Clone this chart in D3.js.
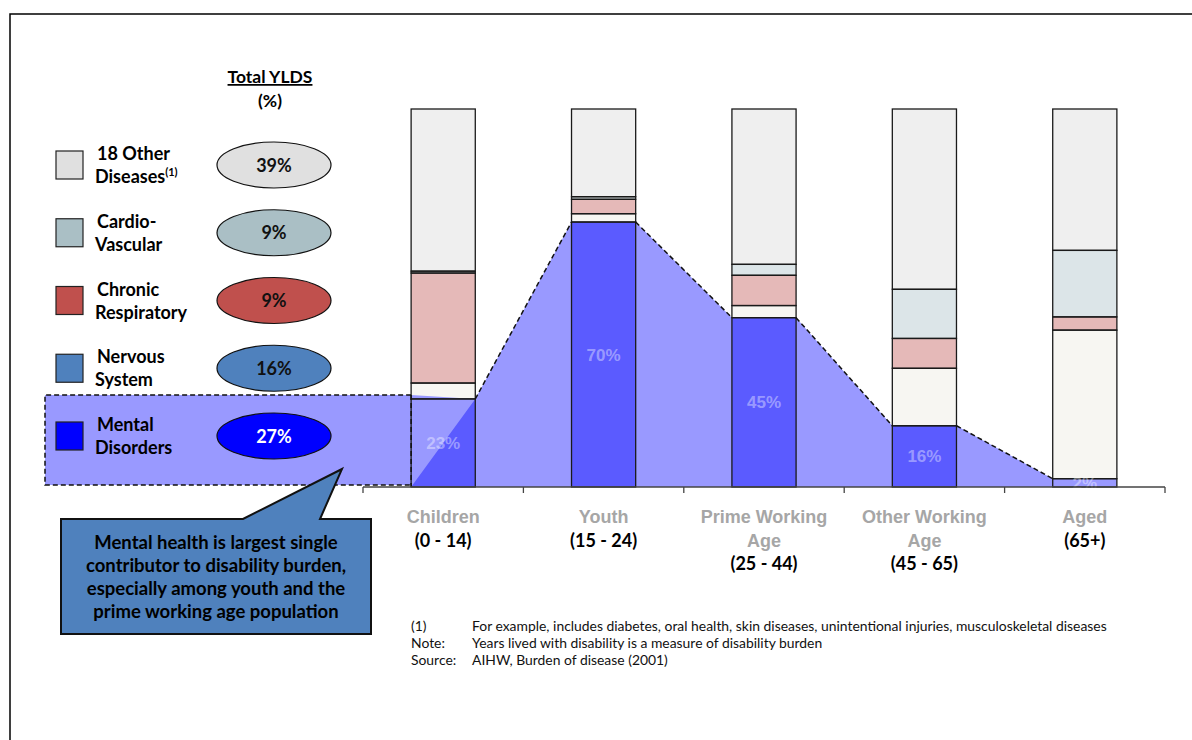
<!DOCTYPE html>
<html>
<head>
<meta charset="utf-8">
<script src="https://cdn.jsdelivr.net/npm/d3@7"></script>
<style>
  body { margin: 0; background: #fff; }
  svg text { font-family: Lato, "Open Sans", sans-serif; }
  .cat { font-family: "Liberation Sans", Arial, sans-serif; font-weight: bold; }
</style>
</head>
<body>
<svg width="1192" height="740"></svg>
<script>

// Data (percent of YLDs per age group, bottom to top)
var categories = ["Children", "Youth", "Prime Working Age", "Other Working Age", "Aged"];
var catLines = [["Children"], ["Youth"], ["Prime Working", "Age"], ["Other Working", "Age"], ["Aged"]];
var ageRanges = ["(0 - 14)", "(15 - 24)", "(25 - 44)", "(45 - 65)", "(65+)"];

var mental      = [23.3, 70.1, 44.8, 16.2, 2.2];
var nervous     = [4.2, 2.2, 3.2, 15.2, 39.3];
var respiratory = [29.1, 3.8, 8.0, 7.9, 3.5];
var cardio      = [0.5, 0.7, 2.9, 13.0, 17.6];
var other       = [42.9, 23.2, 41.1, 47.7, 37.4];
var mentalLabels = ["23%", "70%", "45%", "16%", "2%"];

// legend, top to bottom
var legendKeys   = ["other", "cardio", "respiratory", "nervous", "mental"];
var legendNames  = [["18 Other", "Diseases"], ["Cardio-", "Vascular"], ["Chronic", "Respiratory"], ["Nervous", "System"], ["Mental", "Disorders"]];
var legendTotals = ["39%", "9%", "9%", "16%", "27%"];

var calloutLines = ["Mental health is largest single", "contributor to disability burden,",
                    "especially among youth and the", "prime working age population"];
var footLabels = ["(1)", "Note:", "Source:"];
var footTexts = ["For example, includes diabetes, oral health, skin diseases, unintentional injuries, musculoskeletal diseases",
                 "Years lived with disability is a measure of disability burden",
                 "AIHW, Burden of disease (2001)"];

var keys = ["mental", "nervous", "respiratory", "cardio", "other"];
var barColor = {mental: "#5b5bff", nervous: "#f7f6f2", respiratory: "#e5b9b8", cardio: "#dce5e8", other: "#efefef"};
var legColor = {mental: "#0000ff", nervous: "#4f81bd", respiratory: "#c0504d", cardio: "#aabfc5", other: "#e0e0e0"};
var overlay = "#9999ff";

var svg = d3.select("svg");

// page frame
svg.append("rect").attr("x", 10).attr("y", 14).attr("width", 1200).attr("height", 740)
  .attr("fill", "none").attr("stroke", "#000").attr("stroke-width", 1.5);

var x = d3.scaleBand().domain(categories).range([363, 1165]).paddingInner(0.6).paddingOuter(0.3);
var y = d3.scaleLinear().domain([0, 100]).range([487, 109]);

var rows = categories.map(function (c, i) {
  return {cat: c, mental: mental[i], nervous: nervous[i], respiratory: respiratory[i], cardio: cardio[i], other: other[i]};
});
var series = d3.stack().keys(keys)(rows);

var bw = x.bandwidth();
function L(i) { return x(categories[i]); }
function R(i) { return x(categories[i]) + bw; }
function T(i) { return y(mental[i]); }

// highlight band behind the bars
var hlLeft = 45, hlTop = T(0) - 4, hlBottom = 485;
var back = [[R(0), T(0)]];
for (var i = 1; i < categories.length; i++) { back.push([L(i), T(i)]); back.push([R(i), T(i)]); }
back.push([R(categories.length - 1), y(0)]);
back.push([R(0), y(0)]);
svg.append("path").attr("d", "M" + back.join("L") + "Z").attr("fill", overlay);

// bar fills
var segs = svg.append("g");
series.forEach(function (s) {
  segs.selectAll(null).data(s).enter().append("rect")
    .attr("x", function (d) { return x(d.data.cat); })
    .attr("y", function (d) { return y(d[1]); })
    .attr("width", bw)
    .attr("height", function (d) { return y(d[0]) - y(d[1]); })
    .attr("fill", function (d, i) { return (s.key === "mental" && i === categories.length - 1) ? overlay : barColor[s.key]; });
});

// front highlight piece running into the first bar
var front = [[hlLeft, hlTop], [L(0), hlTop], [R(0), T(0)], [L(0), y(0)], [L(0), hlBottom], [hlLeft, hlBottom]];
svg.append("path").attr("d", "M" + front.join("L") + "Z").attr("fill", overlay);

// bar outlines
var outl = svg.append("g");
series.forEach(function (s) {
  outl.selectAll(null).data(s).enter().append("rect")
    .attr("x", function (d) { return x(d.data.cat); })
    .attr("y", function (d) { return y(d[1]); })
    .attr("width", bw)
    .attr("height", function (d) { return y(d[0]) - y(d[1]); })
    .attr("fill", "none").attr("stroke", "#1a1a1a").attr("stroke-width", 1.3);
});

// mental labels
svg.selectAll(".ml").data(mentalLabels).enter().append("text")
  .attr("x", function (d, i) { return L(i) + bw / 2; })
  .attr("y", function (d, i) { return (y(0) + T(i)) / 2 + 6; })
  .attr("text-anchor", "middle").attr("class", "cat")
  .attr("font-size", 17).attr("fill", "#fff").attr("fill-opacity", 0.4)
  .text(function (d) { return d; });

// dashed outlines
var dash = svg.append("g").attr("fill", "none").attr("stroke", "#111").attr("stroke-width", 1.5).attr("stroke-dasharray", "5,3");
dash.append("path").attr("d", "M" + L(0) + "," + hlTop + "H" + hlLeft + "V" + hlBottom + "H" + L(0));
dash.append("path").attr("d", "M" + L(0) + "," + hlTop + "V" + y(0));
for (var j = 0; j < categories.length - 1; j++) {
  dash.append("path").attr("d", "M" + R(j) + "," + T(j) + "L" + L(j + 1) + "," + T(j + 1));
}

// axis with ticks at the band edges
var ax = svg.append("g").attr("stroke", "#444").attr("stroke-width", 1.3);
ax.append("line").attr("x1", 363).attr("x2", 1165).attr("y1", y(0)).attr("y2", y(0));
ax.selectAll("line.tk").data(d3.range(categories.length + 1)).enter().append("line")
  .attr("x1", function (d) { return 363 + d * x.step(); })
  .attr("x2", function (d) { return 363 + d * x.step(); })
  .attr("y1", y(0)).attr("y2", y(0) + 6);

// category labels
categories.forEach(function (c, i) {
  var cx = L(i) + bw / 2;
  catLines[i].forEach(function (t, k) {
    svg.append("text").attr("class", "cat").attr("x", cx).attr("y", 523 + k * 24)
      .attr("text-anchor", "middle").attr("font-size", 18).attr("fill", "#a6a6a6").text(t);
  });
  svg.append("text").attr("x", cx).attr("y", 524 + catLines[i].length * 23)
    .attr("text-anchor", "middle").attr("font-size", 18).attr("font-weight", "bold").attr("fill", "#000")
    .text(ageRanges[i]);
});

// legend header
svg.append("text").attr("x", 270).attr("y", 83).attr("text-anchor", "middle")
  .attr("font-size", 17.5).attr("font-weight", "bold").attr("text-decoration", "underline").text("Total YLDS");
svg.append("text").attr("x", 270).attr("y", 107).attr("text-anchor", "middle")
  .attr("font-size", 17.5).attr("font-weight", "bold").text("(%)");

// legend rows
var rowY = d3.scalePoint().domain(legendKeys).range([165, 436]);
legendKeys.forEach(function (k, i) {
  var cy = rowY(k);
  svg.append("rect").attr("x", 56).attr("y", cy - 14).attr("width", 27).attr("height", 28)
    .attr("fill", legColor[k]).attr("stroke", "#222").attr("stroke-width", 1.2);
  var t1 = svg.append("text").attr("x", 97).attr("y", cy - 5).attr("font-size", 18).attr("font-weight", "bold").text(legendNames[i][0]);
  var t2 = svg.append("text").attr("x", 95).attr("y", cy + 18).attr("font-size", 18).attr("font-weight", "bold").text(legendNames[i][1]);
  if (k === "other") t2.append("tspan").attr("font-size", 11).attr("dy", -7).text("(1)");
  svg.append("ellipse").attr("cx", 274).attr("cy", cy).attr("rx", 57).attr("ry", 23)
    .attr("fill", legColor[k]).attr("stroke", "#111").attr("stroke-width", 1.2);
  svg.append("text").attr("x", 274).attr("y", cy + 6.5).attr("text-anchor", "middle")
    .attr("font-size", 18).attr("font-weight", "bold").attr("fill", k === "mental" ? "#fff" : "#111")
    .text(legendTotals[i]);
});

// callout
var callout = [[61, 519], [243, 519], [342, 469], [320, 519], [371, 519], [371, 634], [61, 634]];
svg.append("path").attr("d", "M" + callout.join("L") + "Z")
  .attr("fill", "#4f81bd").attr("stroke", "#111").attr("stroke-width", 2);
svg.selectAll(".co").data(calloutLines).enter().append("text")
  .attr("x", 216).attr("y", function (d, i) { return 549 + i * 23; })
  .attr("text-anchor", "middle").attr("font-size", 18.5).attr("font-weight", "bold").attr("fill", "#000")
  .text(function (d) { return d; });

// footnotes
footLabels.forEach(function (f, i) {
  svg.append("text").attr("x", 411).attr("y", 631 + i * 17).attr("font-size", 13.9).attr("fill", "#111").text(f);
  svg.append("text").attr("x", 472).attr("y", 631 + i * 17).attr("font-size", 13.9).attr("fill", "#111").text(footTexts[i]);
});
</script>
</body>
</html>
